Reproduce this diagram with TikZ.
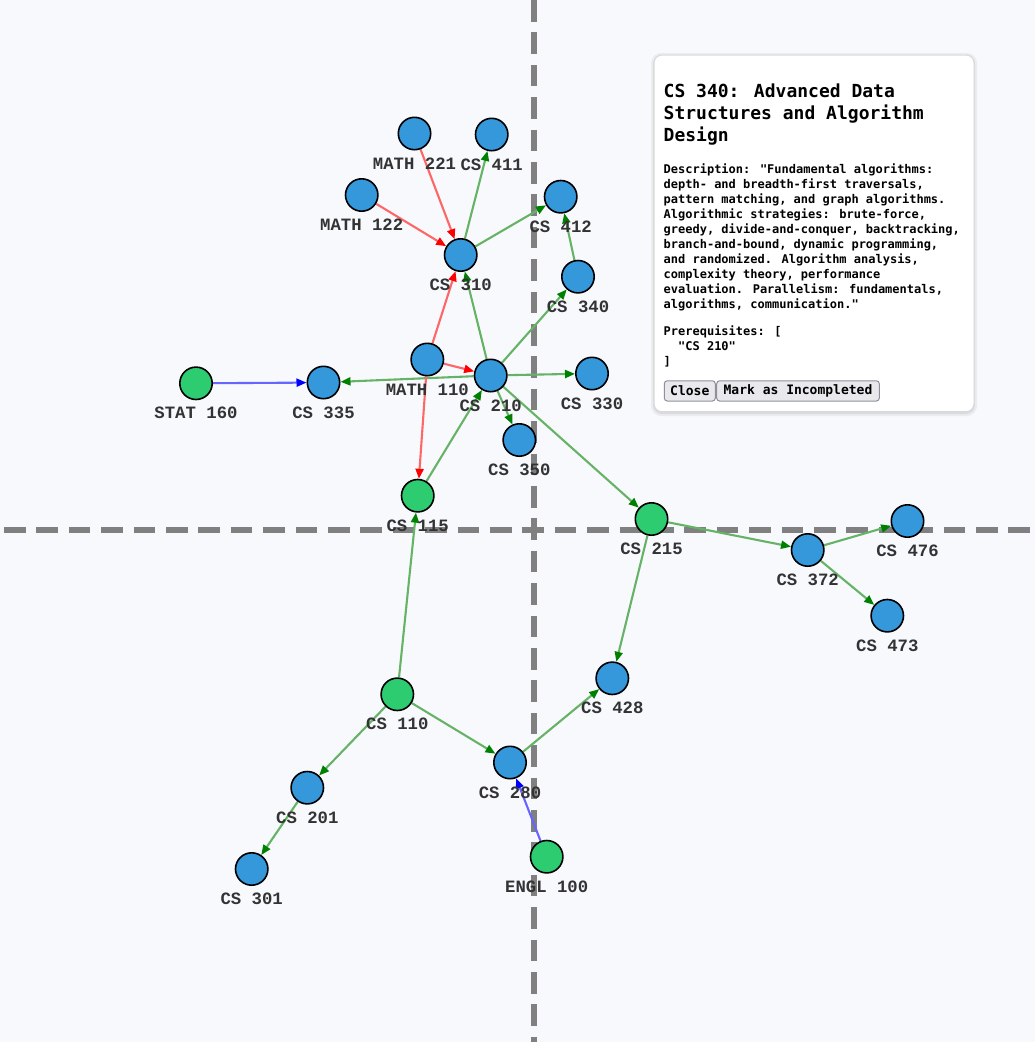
\documentclass[tikz,border=0pt]{standalone}
\usepackage{fontspec}
\usetikzlibrary{arrows.meta}
\newfontfamily\labelfont{Liberation Mono}[Ligatures=TeXOff]
\newfontfamily\panelfont{DejaVu Sans Mono}[Ligatures=TeXOff]
\definecolor{pagebg}{HTML}{F7F9FD}
\definecolor{nodeblue}{HTML}{3498DB}
\definecolor{nodegreen}{HTML}{2ECC71}
\definecolor{linegreen}{HTML}{66B366}
\definecolor{tipgreen}{HTML}{008000}
\definecolor{linered}{HTML}{FF6666}
\definecolor{tipred}{HTML}{FF0000}
\definecolor{lineblue}{HTML}{6666FF}
\definecolor{tipblue}{HTML}{0000FF}
\definecolor{textgrey}{HTML}{333333}
\definecolor{btnfill}{HTML}{E9E9ED}
\definecolor{btnline}{HTML}{8F8F9D}
\pgfdeclarelayer{back}
\pgfdeclarelayer{edges}
\pgfsetlayers{back,edges,main}

\begin{document}
\begin{tikzpicture}
[x=1pt,y=-1pt,
course/.style={circle,draw=black,line width=1.6pt,minimum size=32.4pt,inner sep=0pt},
tag/.style={anchor=base,inner sep=0pt,text=textgrey,font=\labelfont\bfseries\fontsize{17.3}{20}\selectfont},
axis/.style={draw=gray,line width=5.4pt,dash pattern=on 21.6pt off 10.8pt},
needs/.style={draw=linegreen,line width=2.1pt,-{Triangle[length=10pt,width=8pt,color=tipgreen]}},
mathreq/.style={draw=linered,line width=2.1pt,-{Triangle[length=10pt,width=8pt,color=tipred]}},
extreq/.style={draw=lineblue,line width=2.1pt,-{Triangle[length=10pt,width=8pt,color=tipblue]}},
ttl/.style={anchor=base west,inner sep=0pt,font=\panelfont\bfseries\fontsize{18}{22}\selectfont},
dsc/.style={anchor=base west,inner sep=0pt,font=\panelfont\bfseries\fontsize{12}{15}\selectfont},
btn/.style={draw=btnline,fill=btnfill,line width=1pt,rounded corners=3pt,minimum height=20.3pt,inner sep=0pt,font=\panelfont\bfseries\fontsize{13}{15}\selectfont}]
\useasboundingbox (0,0) rectangle (1035,1042);
\begin{pgfonlayer}{back}
\fill[pagebg] (0,0) rectangle (1035,1042);
\draw[axis] (533.8,0) -- (533.8,1042);
\draw[axis,dash phase=28.4pt] (0,530) -- (1035,530);
\end{pgfonlayer}
% courses
\foreach \n/\x/\y/\t/\c in {m221/414.5/133.5/MATH 221/nodeblue,cs411/491.7/134.5/CS 411/nodeblue,
  m122/361.7/195/MATH 122/nodeblue,cs412/560.7/196.7/CS 412/nodeblue,cs310/460.7/255/CS 310/nodeblue,
  cs340/578/276.7/CS 340/nodeblue,m110/427.3/359.5/MATH 110/nodeblue,cs210/490.7/375.5/CS 210/nodeblue,
  cs330/592/373.5/CS 330/nodeblue,st160/196/383.3/STAT 160/nodegreen,cs335/323.5/382.5/CS 335/nodeblue,
  cs350/519.3/440/CS 350/nodeblue,cs115/417.7/495.7/CS 115/nodegreen,cs215/651.5/519/CS 215/nodegreen,
  cs476/907.5/521/CS 476/nodeblue,cs372/807.7/550/CS 372/nodeblue,cs473/887.3/615.7/CS 473/nodeblue,
  cs428/612.3/678.3/CS 428/nodeblue,cs110/397.3/694.3/CS 110/nodegreen,cs280/510/762.5/CS 280/nodeblue,
  cs201/307.3/787.7/CS 201/nodeblue,en100/546.7/856.7/ENGL 100/nodegreen,cs301/251.7/869/CS 301/nodeblue}
{
\node[course,fill=\c] (\n) at (\x,\y) {};
\node[tag] (\n-tag) at (\x,\y+35.5) {\t};
}
% prerequisites
\begin{pgfonlayer}{edges}
\foreach \from/\to in {cs310/cs411,cs310/cs412,cs340/cs412,cs210/cs310,cs210/cs340,cs210/cs330,cs210/cs335,
  cs210/cs350,cs210/cs215,cs115/cs210,cs215/cs372,cs215/cs428,cs372/cs476,cs372/cs473,cs110/cs115,
  cs110/cs280,cs110/cs201,cs201/cs301,cs280/cs428}
\draw[needs] (\from) -- (\to);
\foreach \from/\to in {m221/cs310,m122/cs310,m110/cs310,m110/cs210,m110/cs115}
\draw[mathreq] (\from) -- (\to);
\foreach \from/\to in {st160/cs335,en100/cs280}
\draw[extreq] (\from) -- (\to);
\end{pgfonlayer}
% info panel
\fill[black,opacity=0.05,rounded corners=10pt] (651,53) rectangle (977,416);
\fill[black,opacity=0.07,rounded corners=9pt] (653,55) rectangle (975,414);
\draw[draw=black!15,fill=white,line width=1pt,rounded corners=8pt] (654,55) rectangle (974,411.7);
\foreach \t [count=\i] in {CS 340: Advanced Data,Structures and Algorithm,Design}
\node[ttl] (title\i) at (663.5,97+22*\i-22) {\t};
\foreach \t [count=\i] in {Description: "Fundamental algorithms:,{depth- and breadth-first traversals,},
  {pattern matching, and graph algorithms.},{Algorithmic strategies: brute-force,},
  {greedy, divide-and-conquer, backtracking,},{branch-and-bound, dynamic programming,},
  {and randomized. Algorithm analysis,},{complexity theory, performance},
  {evaluation. Parallelism: fundamentals,},{algorithms, communication."}}
\node[dsc] (desc\i) at (663.5,173.3+15*\i-15) {\t};
\node[dsc] (prereq1) at (663.5,335.7) {Prerequisites: [};
\node[dsc] (prereq2) at (663.5,350.5) {\phantom{AA}"CS 210"};
\node[dsc] (prereq3) at (663.5,365.3) {]};
\node[btn,minimum width=51pt] (close) at (689.8,390.9) {Close};
\node[btn,minimum width=162.6pt] (mark) at (798,390.9) {Mark as Incompleted};
\end{tikzpicture}
\end{document}
